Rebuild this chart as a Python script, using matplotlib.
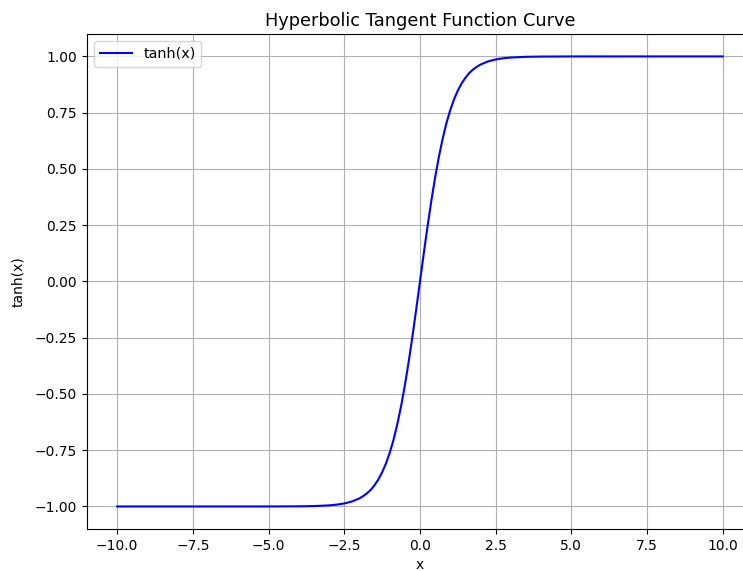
import matplotlib.pyplot as plt

# points
x_vals = [-10.0, -7.5, -5.0, -4.0, -3.5, -3.0, -2.75, -2.5, -2.25, -2.0, -1.875, -1.75,
          -1.625, -1.5, -1.375, -1.25, -1.125, -1.0, -0.875, -0.75, -0.625, -0.5,
          -0.375, -0.25, -0.125, 0.0,
          0.125, 0.25, 0.375, 0.5, 0.625, 0.75, 0.875, 1.0, 1.125, 1.25, 1.375, 1.5,
          1.625, 1.75, 1.875, 2.0, 2.25, 2.5, 2.75, 3.0, 3.5, 4.0, 5.0, 7.5, 10.0]
y_vals = [-1.0, -1.0, -0.9999, -0.9993, -0.9982, -0.9951, -0.9918, -0.9866, -0.9780,
          -0.9640, -0.9539, -0.9414, -0.9259, -0.9051, -0.8799, -0.8483, -0.8093,
          -0.7616, -0.7043, -0.6351, -0.5546, -0.4621, -0.3584, -0.2449, -0.1244, 0.0,
          0.1244, 0.2449, 0.3584, 0.4621, 0.5546, 0.6351, 0.7043, 0.7616, 0.8093,
          0.8483, 0.8799, 0.9051, 0.9259, 0.9414, 0.9539, 0.9640, 0.9780, 0.9866,
          0.9918, 0.9951, 0.9982, 0.9993, 0.9999, 1.0, 1.0]

fig = plt.figure(figsize=(7.43, 5.71), dpi=100)
ax = fig.add_axes([0.117, 0.0736, 0.8965, 0.867])
ax.plot(x_vals, y_vals, color='blue', label='tanh(x)')
ax.set_title('Hyperbolic Tangent Function Curve', fontsize=12.8)
ax.set_xlabel('x', labelpad=4)
ax.set_ylabel('tanh(x)', labelpad=7)
ax.grid(True)
ax.legend(loc='upper left', fontsize=10.4, handlelength=2.2)
fig.savefig('out.png', dpi=100)
